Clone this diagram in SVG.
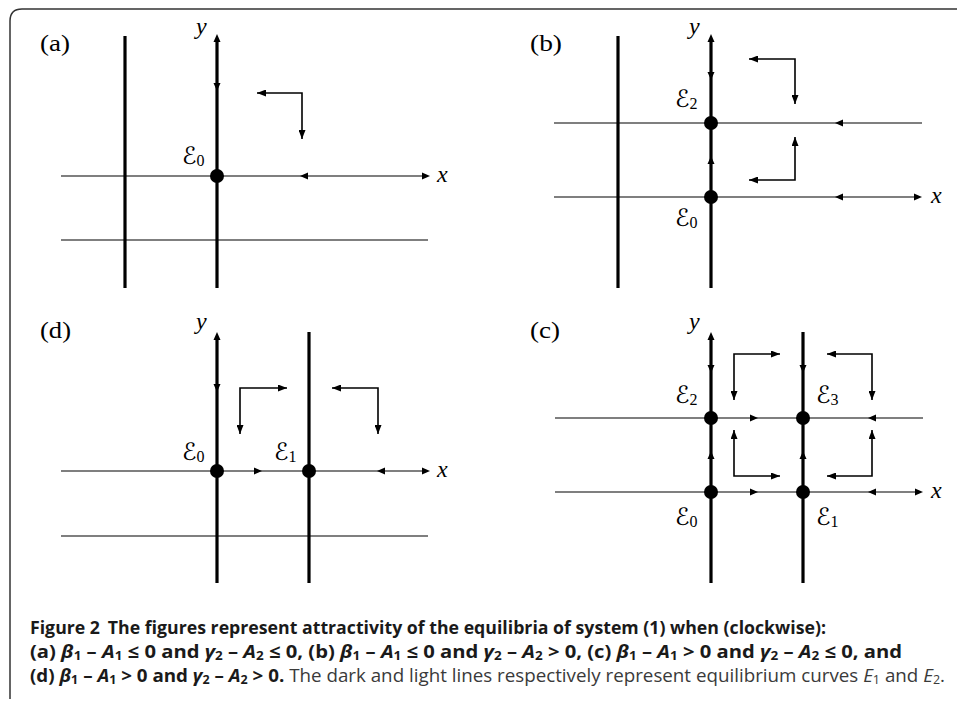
<svg xmlns="http://www.w3.org/2000/svg" width="957" height="701" viewBox="0 0 957 701">
<style>
.thick{stroke:#000;stroke-width:3.2;fill:none}
.thin{stroke:#000;stroke-width:1.2;fill:none}
.cor{stroke:#000;stroke-width:1.6;fill:none;marker-start:url(#ah);marker-end:url(#ah)}
.lbl{font-family:"Liberation Serif","DejaVu Serif",serif;font-size:23px;fill:#000}
.var{font-family:"Liberation Serif","DejaVu Serif",serif;font-size:24px;font-style:italic;fill:#000}
.eq{font-family:"DejaVu Serif","DejaVu Sans",serif;font-size:24px;fill:#000}
.sub{font-family:"Liberation Serif","DejaVu Serif",serif;font-size:16px;font-style:normal}
.cap{font-family:"Open Sans","Noto Sans",sans-serif;font-size:18px;fill:#1a1a1a}
.b{font-weight:bold}
.ci{font-style:italic}
.cs{font-size:12px}
.lt{font-weight:normal;fill:#3a3a3a}
</style>
<defs>
<marker id="ah" viewBox="0 0 9 7" refX="9" refY="3.5" markerWidth="9" markerHeight="7" markerUnits="userSpaceOnUse" orient="auto-start-reverse"><path d="M0,0 L9,3.5 L0,7 Z" fill="#000"/></marker>
<path id="tri" d="M0,0 L-8,-3.5 L-8,3.5 Z" fill="#000"/>
<circle id="dot" r="7" fill="#000"/>
</defs>
<rect width="957" height="701" fill="#fff"/>
<path id="frame" d="M10,699 L10,21 Q10,9 22,9 L957,9" fill="none" stroke="#333" stroke-width="1.5"/>

<!-- Panel (a) -->
<g id="panel-a">
<g id="connectors-a">
<path class="thick" d="M125,36 L125,288"/>
<path class="thick" d="M217,288 L217,40"/>
<use href="#tri" transform="translate(217,34) rotate(-90)"/>
<use href="#tri" transform="translate(217,91) rotate(90)"/>
<path class="thin" d="M61,176 L425,176"/>
<use href="#tri" transform="translate(430,176)"/>
<use href="#tri" transform="translate(300,176) rotate(180)"/>
<path class="thin" d="M61,240 L428,240"/>
<path class="cor" d="M302,139 L302,93 L257,93"/>
</g>
<text class="lbl" x="40" y="51" textLength="30" lengthAdjust="spacingAndGlyphs">(a)</text>
<text class="var" x="196" y="34">y</text>
<text class="var" x="437" y="182">x</text>
<g id="node-a-E0"><use href="#dot" x="217" y="176"/><text class="eq" x="182" y="164">ℰ<tspan class="sub" dy="2">0</tspan></text></g>
</g>

<!-- Panel (b) -->
<g id="panel-b">
<g id="connectors-b">
<path class="thick" d="M618,36 L618,288"/>
<path class="thick" d="M711,288 L711,40"/>
<use href="#tri" transform="translate(711,34) rotate(-90)"/>
<use href="#tri" transform="translate(711,80) rotate(90)"/>
<use href="#tri" transform="translate(711,156) rotate(-90)"/>
<path class="thin" d="M554,123 L922,123"/>
<use href="#tri" transform="translate(835,123) rotate(180)"/>
<path class="thin" d="M554,197 L917,197"/>
<use href="#tri" transform="translate(922,197)"/>
<use href="#tri" transform="translate(835,197) rotate(180)"/>
<path class="cor" d="M795,104 L795,59 L749,59"/>
<path class="cor" d="M795,137 L795,180 L749,180"/>
</g>
<text class="lbl" x="530" y="51" textLength="32" lengthAdjust="spacingAndGlyphs">(b)</text>
<text class="var" x="689" y="34">y</text>
<text class="var" x="931" y="203">x</text>
<g id="node-b-E2"><use href="#dot" x="711" y="123"/><text class="eq" x="675" y="107">ℰ<tspan class="sub" dy="2">2</tspan></text></g>
<g id="node-b-E0"><use href="#dot" x="711" y="197"/><text class="eq" x="675" y="226">ℰ<tspan class="sub" dy="2">0</tspan></text></g>
</g>

<!-- Panel (d) -->
<g id="panel-d">
<g id="connectors-d">
<path class="thick" d="M217,583 L217,338"/>
<use href="#tri" transform="translate(217,332) rotate(-90)"/>
<use href="#tri" transform="translate(217,392) rotate(90)"/>
<path class="thick" d="M309,332 L309,583"/>
<path class="thin" d="M61,471 L425,471"/>
<use href="#tri" transform="translate(430,471)"/>
<use href="#tri" transform="translate(262,471)"/>
<use href="#tri" transform="translate(377,471) rotate(180)"/>
<path class="thin" d="M61,536 L428,536"/>
<path class="cor" d="M240,434 L240,388 L287,388"/>
<path class="cor" d="M378,434 L378,388 L332,388"/>
</g>
<text class="lbl" x="40" y="338" textLength="31" lengthAdjust="spacingAndGlyphs">(d)</text>
<text class="var" x="196" y="329">y</text>
<text class="var" x="437" y="477">x</text>
<g id="node-d-E0"><use href="#dot" x="217" y="471"/><text class="eq" x="182" y="460">ℰ<tspan class="sub" dy="2">0</tspan></text></g>
<g id="node-d-E1"><use href="#dot" x="309" y="471"/><text class="eq" x="274" y="460">ℰ<tspan class="sub" dy="2">1</tspan></text></g>
</g>

<!-- Panel (c) -->
<g id="panel-c">
<g id="connectors-c">
<path class="thick" d="M711,583 L711,338"/>
<use href="#tri" transform="translate(711,332) rotate(-90)"/>
<use href="#tri" transform="translate(711,373) rotate(90)"/>
<use href="#tri" transform="translate(711,451) rotate(-90)"/>
<path class="thick" d="M803,332 L803,583"/>
<use href="#tri" transform="translate(803,373) rotate(90)"/>
<use href="#tri" transform="translate(803,451) rotate(-90)"/>
<path class="thin" d="M555,418 L923,418"/>
<use href="#tri" transform="translate(758,418)"/>
<use href="#tri" transform="translate(868,418) rotate(180)"/>
<path class="thin" d="M555,492 L918,492"/>
<use href="#tri" transform="translate(923,492)"/>
<use href="#tri" transform="translate(758,492)"/>
<use href="#tri" transform="translate(868,492) rotate(180)"/>
<path class="cor" d="M734,400 L734,354 L780,354"/>
<path class="cor" d="M872,400 L872,354 L827,354"/>
<path class="cor" d="M734,430 L734,476 L780,476"/>
<path class="cor" d="M872,430 L872,476 L827,476"/>
</g>
<text class="lbl" x="530" y="338" textLength="30" lengthAdjust="spacingAndGlyphs">(c)</text>
<text class="var" x="689" y="329">y</text>
<text class="var" x="931" y="498">x</text>
<g id="node-c-E2"><use href="#dot" x="711" y="418"/><text class="eq" x="675" y="403">ℰ<tspan class="sub" dy="2">2</tspan></text></g>
<g id="node-c-E3"><use href="#dot" x="803" y="418"/><text class="eq" x="816" y="403">ℰ<tspan class="sub" dy="2">3</tspan></text></g>
<g id="node-c-E0"><use href="#dot" x="711" y="492"/><text class="eq" x="675" y="525">ℰ<tspan class="sub" dy="2">0</tspan></text></g>
<g id="node-c-E1"><use href="#dot" x="803" y="492"/><text class="eq" x="816" y="525">ℰ<tspan class="sub" dy="2">1</tspan></text></g>
</g>

<!-- Caption -->
<g id="caption">
<text class="cap b" x="30" y="634" textLength="796" lengthAdjust="spacingAndGlyphs">Figure 2<tspan dx="8">The figures represent attractivity of the equilibria of system (1) when (clockwise):</tspan></text>
<text class="cap b" x="30" y="658" textLength="872" lengthAdjust="spacingAndGlyphs">(a) <tspan class="ci">β</tspan><tspan class="cs" dy="2">1</tspan><tspan dy="-2"> – </tspan><tspan class="ci">A</tspan><tspan class="cs" dy="2">1</tspan><tspan dy="-2"> ≤ 0 and </tspan><tspan class="ci">γ</tspan><tspan class="cs" dy="2">2</tspan><tspan dy="-2"> – </tspan><tspan class="ci">A</tspan><tspan class="cs" dy="2">2</tspan><tspan dy="-2"> ≤ 0, (b) </tspan><tspan class="ci">β</tspan><tspan class="cs" dy="2">1</tspan><tspan dy="-2"> – </tspan><tspan class="ci">A</tspan><tspan class="cs" dy="2">1</tspan><tspan dy="-2"> ≤ 0 and </tspan><tspan class="ci">γ</tspan><tspan class="cs" dy="2">2</tspan><tspan dy="-2"> – </tspan><tspan class="ci">A</tspan><tspan class="cs" dy="2">2</tspan><tspan dy="-2"> &gt; 0, (c) </tspan><tspan class="ci">β</tspan><tspan class="cs" dy="2">1</tspan><tspan dy="-2"> – </tspan><tspan class="ci">A</tspan><tspan class="cs" dy="2">1</tspan><tspan dy="-2"> &gt; 0 and </tspan><tspan class="ci">γ</tspan><tspan class="cs" dy="2">2</tspan><tspan dy="-2"> – </tspan><tspan class="ci">A</tspan><tspan class="cs" dy="2">2</tspan><tspan dy="-2"> ≤ 0, and</tspan></text>
<text class="cap b" x="30" y="682" textLength="915" lengthAdjust="spacingAndGlyphs">(d) <tspan class="ci">β</tspan><tspan class="cs" dy="2">1</tspan><tspan dy="-2"> – </tspan><tspan class="ci">A</tspan><tspan class="cs" dy="2">1</tspan><tspan dy="-2"> &gt; 0 and </tspan><tspan class="ci">γ</tspan><tspan class="cs" dy="2">2</tspan><tspan dy="-2"> – </tspan><tspan class="ci">A</tspan><tspan class="cs" dy="2">2</tspan><tspan dy="-2"> &gt; 0.</tspan><tspan class="lt"> The dark and light lines respectively represent equilibrium curves </tspan><tspan class="lt ci">E</tspan><tspan class="lt cs" dy="2">1</tspan><tspan class="lt" dy="-2"> and </tspan><tspan class="lt ci">E</tspan><tspan class="lt cs" dy="2">2</tspan><tspan class="lt" dy="-2">.</tspan></text>
</g>
</svg>
